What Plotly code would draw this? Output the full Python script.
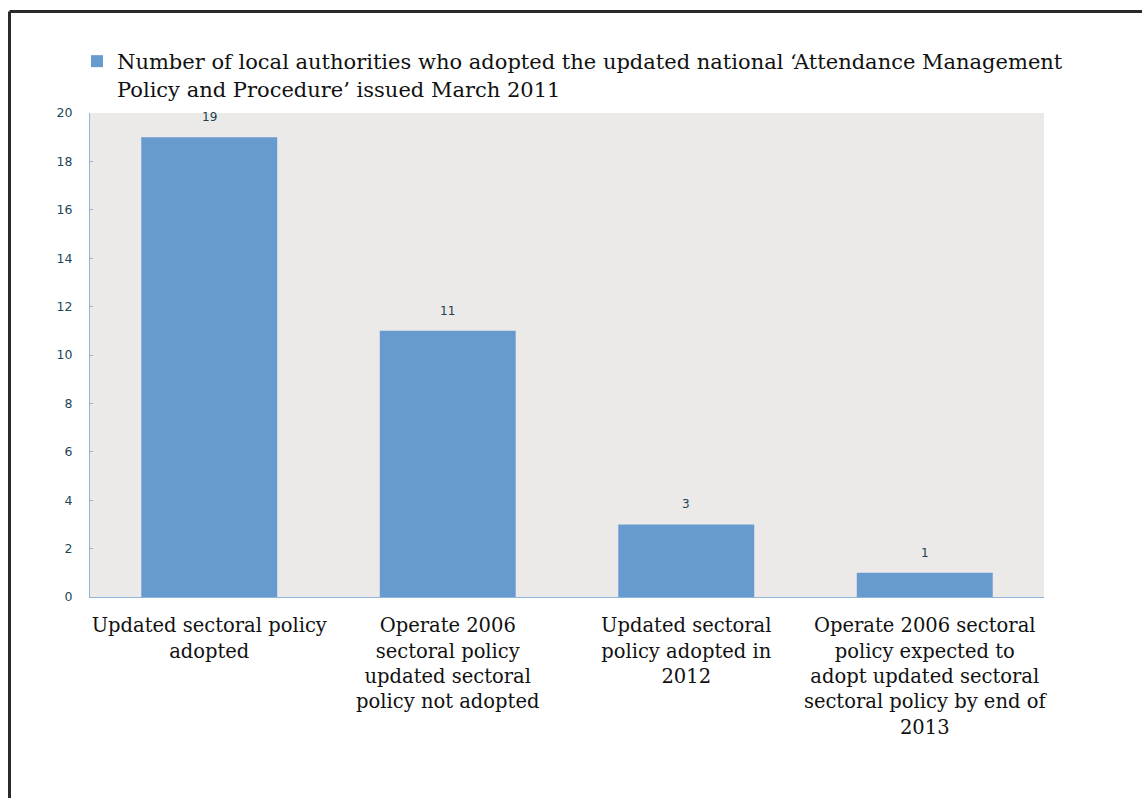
import plotly.graph_objects as go

# Chart data
categories = [
    "Updated sectoral policy<br>adopted",
    "Operate 2006<br>sectoral policy<br>updated sectoral<br>policy not adopted",
    "Updated sectoral<br>policy adopted in<br>2012",
    "Operate 2006 sectoral<br>policy expected to<br>adopt updated sectoral<br>sectoral policy by end of<br>2013",
]
counts = [19, 11, 3, 1]
series_name = ("Number of local authorities who adopted the updated national \u2018Attendance Management"
               "<br>Policy and Procedure\u2019 issued March 2011")
y_ticks = [0, 2, 4, 6, 8, 10, 12, 14, 16, 18, 20]

W, H = 1142, 798
L, R, T, B = 90, 98, 113, 201
plot_w = W - L - R
plot_h = H - T - B


def px_x(px):
    return (px - L) / plot_w


def px_y(py):
    return (H - B - py) / plot_h


SERIF = "DejaVu Serif"
SANS = "Verdana, DejaVu Sans, sans-serif"
BAR = "#679bd0"
AXIS = "#8fb6d8"

fig = go.Figure()
fig.add_trace(go.Bar(
    x=list(range(len(categories))),
    y=counts,
    name=series_name,
    marker=dict(color=BAR, line=dict(width=0)),
    showlegend=True,
))

# value labels above each bar
for i, v in enumerate(counts):
    fig.add_annotation(
        x=i, y=v, xref="x", yref="y", text=str(v), showarrow=False,
        yanchor="bottom", yshift=11,
        font=dict(family=SANS, size=12, color="#1e3f4e"),
    )

# page frame
fig.add_shape(type="line", xref="paper", yref="paper",
              x0=px_x(9.5), x1=px_x(W + 5), y0=px_y(11.5), y1=px_y(11.5),
              line=dict(color="#2a2a2a", width=3))
fig.add_shape(type="line", xref="paper", yref="paper",
              x0=px_x(9.5), x1=px_x(9.5), y0=px_y(11.5), y1=px_y(H + 5),
              line=dict(color="#2a2a2a", width=3))

fig.update_layout(
    width=W, height=H,
    margin=dict(l=L, r=R, t=T, b=B, pad=0),
    paper_bgcolor="white",
    plot_bgcolor="#ebeae9",
    bargap=0.43,
    showlegend=True,
    legend=dict(
        x=px_x(77), y=px_y(41), xanchor="left", yanchor="top",
        bgcolor="rgba(0,0,0,0)", borderwidth=0,
        font=dict(family=SERIF, size=21, color="#111111"),
        valign="top", itemwidth=30,
    ),
    xaxis=dict(
        tickmode="array",
        tickvals=list(range(len(categories))),
        ticktext=categories,
        range=[-0.5, len(categories) - 0.5],
        showgrid=False, zeroline=False,
        showline=True, linecolor=AXIS, linewidth=1,
        ticks="",
        ticklabelstandoff=11,
        tickfont=dict(family=SERIF, size=19.5, color="#111111"),
    ),
    yaxis=dict(
        range=[0, 20],
        tickmode="array", tickvals=y_ticks,
        showgrid=False, zeroline=False,
        showline=True, linecolor=AXIS, linewidth=1,
        ticks="inside", ticklen=3, tickcolor=AXIS,
        ticklabelstandoff=14,
        tickfont=dict(family=SANS, size=12.5, color="#1d4757"),
    ),
)

fig.write_html("out.html")
